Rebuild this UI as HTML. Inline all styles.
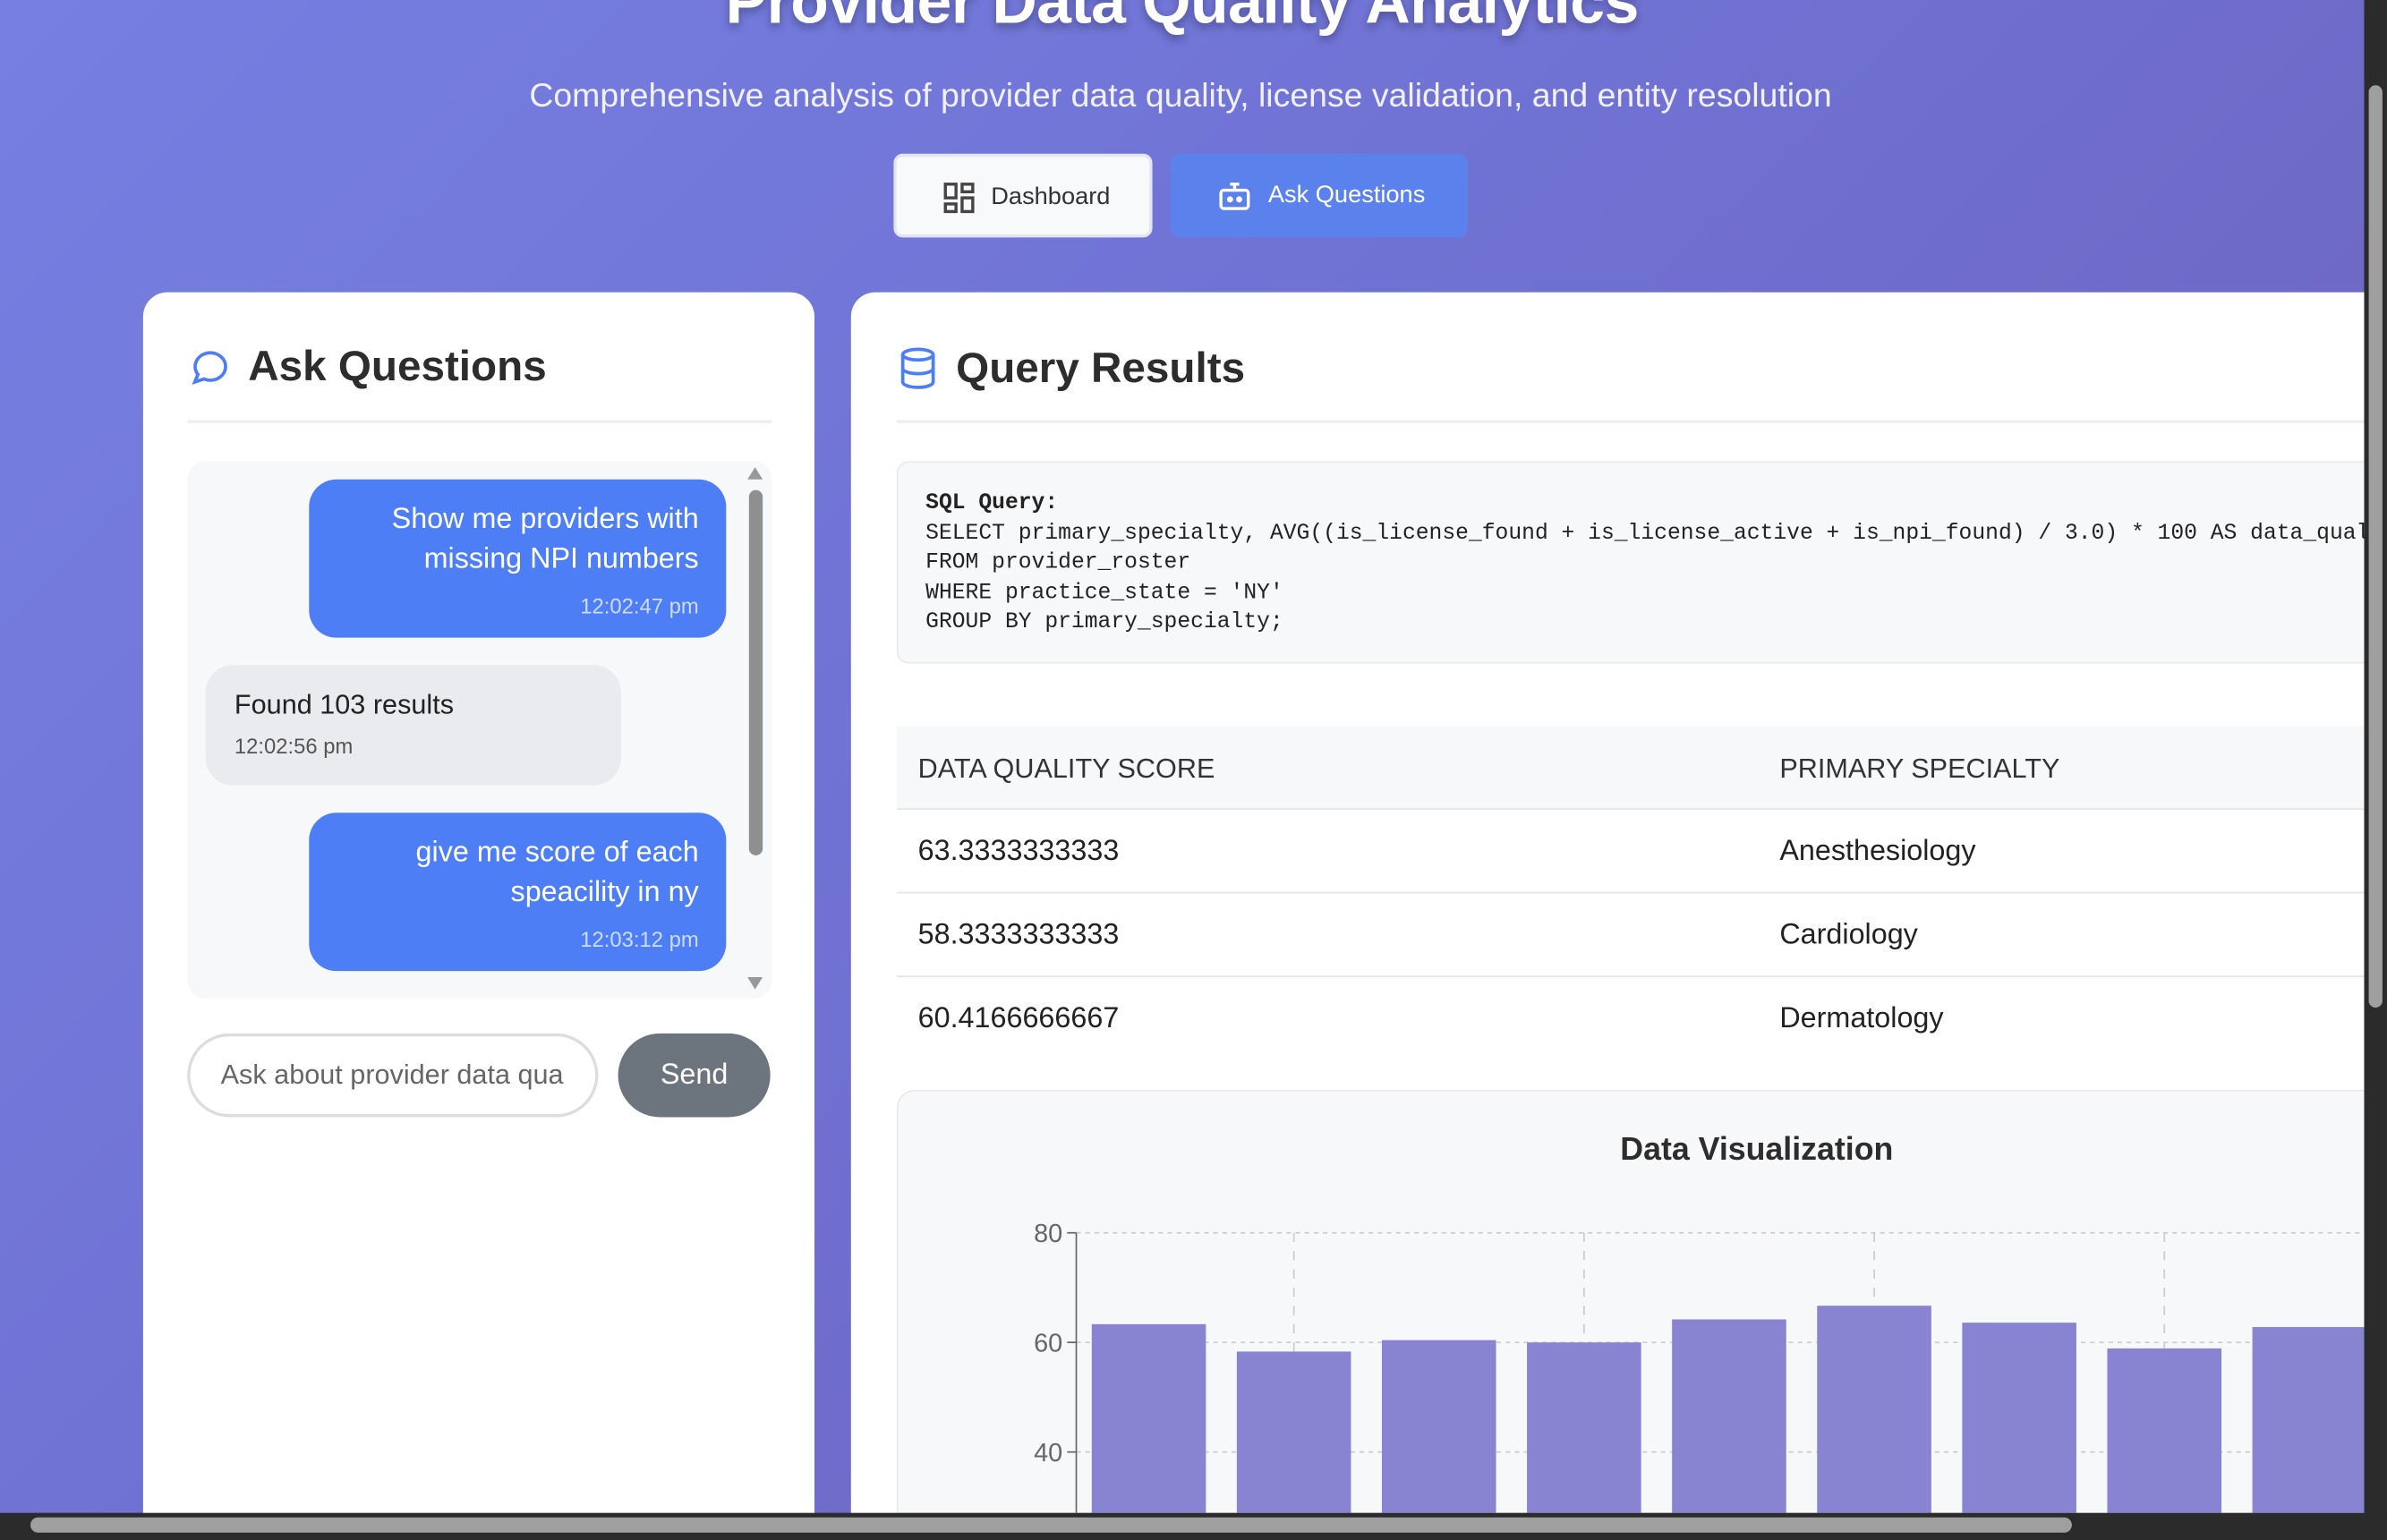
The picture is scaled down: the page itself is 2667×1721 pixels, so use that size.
<!DOCTYPE html>
<html><head><meta charset="utf-8"><style>
html,body{margin:0;padding:0;width:2667px;height:1721px;overflow:hidden;background:#2b2b2b}
#root{position:absolute;left:0;top:0;width:1568px;height:1012px;transform:scale(1.70089);transform-origin:0 0;overflow:hidden;font-family:"Liberation Sans",sans-serif;background:linear-gradient(135deg,#7580e2 0%,#7071d2 45%,#6b5db5 100%)}
.abs{position:absolute}
.card{position:absolute;background:#fff;border-radius:16px 16px 0 0}
.h2{position:absolute;font-size:28px;font-weight:bold;color:#2d2d2d}
.bubble{position:absolute;background:#4d7ef5;color:#fff;border-radius:18px;text-align:right;font-size:19px;line-height:26px;box-sizing:border-box;padding:14px 18px}
.bubble .t{font-size:14px;color:#cfdcff;margin-top:4px}
.mono{font-family:"Liberation Mono",monospace;font-size:14.5px;line-height:19.5px;color:#222}
.row{position:absolute;left:589px;width:964px;height:54px;border-bottom:1px solid #e4e4e4;font-size:19px;color:#222}
.row span{position:absolute;top:17px}
</style></head><body>
<div id="root">
<div class="abs" style="left:0;width:1553px;top:-22px;text-align:center;font-size:41px;font-weight:bold;color:#fff;text-shadow:0 3px 6px rgba(0,0,0,.3);letter-spacing:-0.3px">Provider Data Quality Analytics</div>
<div class="abs" style="left:0;width:1551px;top:50px;text-align:center;font-size:22px;color:#f0f0ff">Comprehensive analysis of provider data quality, license validation, and entity resolution</div>
<div class="abs" style="left:587px;top:101px;width:170px;height:55px;box-sizing:border-box;background:#f8f9fb;border:2px solid #e3e6ee;border-radius:6px;font-size:16px;color:#333">
<svg class="abs" style="left:30px;top:16px" width="22" height="22" viewBox="0 0 22 22" fill="none" stroke="#444" stroke-width="2"><rect x="2" y="2" width="7" height="9"/><rect x="13" y="2" width="7" height="5"/><rect x="13" y="11" width="7" height="9"/><rect x="2" y="15" width="7" height="5"/></svg>
<span class="abs" style="left:62px;top:18px">Dashboard</span></div>
<div class="abs" style="left:769px;top:101px;width:195px;height:55px;background:#5b82ec;border-radius:6px;font-size:16px;color:#fff">
<svg class="abs" style="left:31px;top:17px" width="22" height="22" viewBox="0 0 22 22" fill="none" stroke="#fff" stroke-width="2"><rect x="2" y="7" width="18" height="12" rx="2"/><path d="M11 7V3M8 3h6"/><circle cx="8" cy="13" r="1"/><circle cx="14" cy="13" r="1"/></svg>
<span class="abs" style="left:64px;top:19px">Ask Questions</span></div>

<div class="card" style="left:94px;top:192px;width:441px;height:820px">
<svg class="abs" style="left:30px;top:36px" width="26" height="26" viewBox="0 0 26 26" fill="none" stroke="#4d7ef5" stroke-width="2.2"><path d="M4 23l2-5a10 9 0 1 1 4 3z"/></svg>
<div class="h2" style="left:69px;top:33px">Ask Questions</div>
<div class="abs" style="left:29px;top:84px;width:384px;height:2px;background:#eee"></div>
<div class="abs" style="left:29px;top:111px;width:384px;height:353px;background:#f7f8fa;border-radius:12px"></div>
<div class="abs" style="left:398px;top:130px;width:9px;height:240px;background:#8f8f8f;border-radius:5px"></div>
<div class="abs" style="left:397px;top:115px;width:0;height:0;border-left:5px solid transparent;border-right:5px solid transparent;border-bottom:8px solid #999"></div>
<div class="abs" style="left:397px;top:450px;width:0;height:0;border-left:5px solid transparent;border-right:5px solid transparent;border-top:8px solid #999"></div>
<div class="bubble" style="left:109px;top:123px;width:274px;height:104px">Show me providers with<br>missing NPI numbers<div class="t">12:02:47 pm</div></div>
<div class="abs" style="left:41px;top:245px;width:273px;height:79px;background:#eaebee;border-radius:18px;box-sizing:border-box;padding:16px 19px;font-size:18px;color:#222">Found 103 results<div style="font-size:14px;color:#555;margin-top:8px">12:02:56 pm</div></div>
<div class="bubble" style="left:109px;top:342px;width:274px;height:104px">give me score of each<br>speacility in ny<div class="t">12:03:12 pm</div></div>
<div class="abs" style="left:29px;top:487px;width:270px;height:55px;box-sizing:border-box;border:2px solid #ddd;border-radius:28px;font-size:18px;color:#666;padding:15px 20px;white-space:nowrap;overflow:hidden">Ask about provider data qua</div>
<div class="abs" style="left:312px;top:487px;width:100px;height:55px;background:#6c757d;border-radius:28px;color:#fff;font-size:19px;text-align:center;line-height:55px">Send</div>
</div>

<div class="card" style="left:559px;top:192px;width:994px;height:820px;border-radius:16px 0 0 0"></div>
<svg class="abs" style="left:590px;top:228px" width="26" height="28" viewBox="0 0 26 28" fill="none" stroke="#4d7ef5" stroke-width="2.2"><ellipse cx="13" cy="5" rx="10" ry="3.5"/><path d="M3 5v18c0 2 4.5 3.5 10 3.5s10-1.5 10-3.5V5M3 14c0 2 4.5 3.5 10 3.5s10-1.5 10-3.5"/></svg>
<div class="h2" style="left:628px;top:226px">Query Results</div>
<div class="abs" style="left:589px;top:276px;width:964px;height:2px;background:#eee"></div>
<div class="abs mono" style="left:589px;top:303px;width:964px;height:133px;box-sizing:border-box;background:#f7f8fa;border:1px solid #e8e9ec;border-right:none;border-radius:8px 0 0 8px;padding:18px 18px;white-space:pre;overflow:hidden"><b>SQL Query:</b>
SELECT primary_specialty, AVG((is_license_found + is_license_active + is_npi_found) / 3.0) * 100 AS data_quality_score
FROM provider_roster
WHERE practice_state = 'NY'
GROUP BY primary_specialty;</div>
<div class="row" style="top:477px;background:#f7f8fa;font-size:18px;color:#333"><span style="left:14px;top:18px">DATA QUALITY SCORE</span><span style="left:580px;top:18px">PRIMARY SPECIALTY</span></div>
<div class="row" style="top:532px"><span style="left:14px">63.3333333333</span><span style="left:580px">Anesthesiology</span></div>
<div class="row" style="top:587px"><span style="left:14px">58.3333333333</span><span style="left:580px">Cardiology</span></div>
<div class="row" style="top:642px;border:none"><span style="left:14px">60.4166666667</span><span style="left:580px">Dermatology</span></div>
<div class="abs" style="left:589px;top:716px;width:964px;height:296px;box-sizing:border-box;background:#f7f8fa;border:1px solid #e8e9ec;border-right:none;border-bottom:none;border-radius:12px 0 0 0"></div>
<div class="abs" style="left:589px;width:1130px;top:744px;text-align:center;font-size:21px;font-weight:bold;color:#2d2d2d">Data Visualization</div>
<svg id="chart" class="abs" style="left:0;top:0" width="1553" height="1012"></svg>

<div class="abs" style="left:1553px;top:0;width:15px;height:1012px;background:#2b2b2b"><div class="abs" style="left:3px;top:56px;width:9px;height:606px;background:#9f9f9f;border-radius:5px"></div></div>
<div class="abs" style="left:0;top:994px;width:1568px;height:18px;background:#2b2b2b"><div class="abs" style="left:20px;top:3px;width:1341px;height:10px;background:#9f9f9f;border-radius:5px"></div></div>
</div>
<script>
const categories=["Anesthesiology","Cardiology","Dermatology","Emergency Medicine","Family Medicine","Internal Medicine","Neurology","Oncology","Pediatrics"];
const scores=[63.33,58.33,60.42,60.0,64.2,66.7,63.6,58.9,62.8];
const yTicks=[0,20,40,60,80];
const NS="http://www.w3.org/2000/svg";
const svg=document.getElementById('chart');
const x0=707,band=95.3,y80=810,yScale=3.6,yBottom=994;
const y=v=>y80+(80-v)*yScale;
const xc=i=>x0+band*(i+0.5);
function mk(t,a){const e=document.createElementNS(NS,t);for(const k in a)e.setAttribute(k,a[k]);svg.appendChild(e);return e;}
yTicks.forEach(t=>{
 if(y(t)>yBottom) return;
 const g=mk('line',{x1:x0,x2:1553,y1:y(t),y2:y(t),stroke:'#ccc','stroke-dasharray':'3 3'});
 
 
 mk('line',{x1:x0-6,x2:x0,y1:y(t),y2:y(t),stroke:'#666'});
 const tx=mk('text',{x:x0-9,y:y(t)+6,'text-anchor':'end','font-size':17,fill:'#666','font-family':'Liberation Sans, sans-serif'});
 tx.textContent=t;
 
 
});
categories.forEach((c,i)=>{ if(i%2===1){const v=mk('line',{x1:xc(i),x2:xc(i),y1:y80,y2:yBottom,stroke:'#ccc','stroke-dasharray':'6 6'});}});
mk('line',{x1:x0,x2:x0,y1:y80,y2:yBottom,stroke:'#666'});
scores.forEach((v,i)=>{
 const r=mk('rect',{x:xc(i)-37.5,y:y(v),width:75,height:Math.max(0,yBottom-y(v)),fill:'#8884d2'});
 
 
});
</script>
</body></html>
